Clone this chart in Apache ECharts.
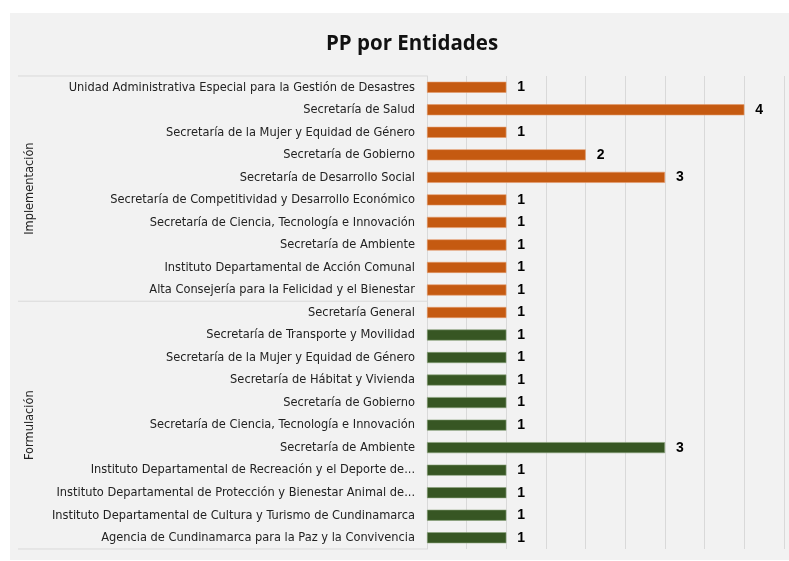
<!DOCTYPE html>
<html><head><meta charset="utf-8">
<script src="https://cdn.jsdelivr.net/npm/echarts@6/dist/echarts.min.js"></script>
<style>
html,body{margin:0;padding:0;background:#fff;}
#bg{position:absolute;left:10px;top:13px;width:779px;height:547px;background:#f2f2f2;}
#c{position:absolute;left:0;top:0;width:789px;height:561px;}
</style></head>
<body><div id="bg"></div><div id="c"></div>
<script>
const categories = [
  'Unidad Administrativa Especial para la Gestión de Desastres',
  'Secretaría de Salud',
  'Secretaría de la Mujer y Equidad de Género',
  'Secretaría de Gobierno',
  'Secretaría de Desarrollo Social',
  'Secretaría de Competitividad y Desarrollo Económico',
  'Secretaría de Ciencia, Tecnología e Innovación',
  'Secretaría de Ambiente',
  'Instituto Departamental de Acción Comunal',
  'Alta Consejería para la Felicidad y el Bienestar',
  'Secretaría General',
  'Secretaría de Transporte y Movilidad',
  'Secretaría de la Mujer y Equidad de Género',
  'Secretaría de Hábitat y Vivienda',
  'Secretaría de Gobierno',
  'Secretaría de Ciencia, Tecnología e Innovación',
  'Secretaría de Ambiente',
  'Instituto Departamental de Recreación y el Deporte de...',
  'Instituto Departamental de Protección y Bienestar Animal de...',
  'Instituto Departamental de Cultura y Turismo de Cundinamarca',
  'Agencia de Cundinamarca para la Paz y la Convivencia'
];
const values = [1,4,1,2,3,1,1,1,1,1,1,1,1,1,1,1,3,1,1,1,1];
// bar colour group for each bar (Secretaría General is drawn orange in the source)
const barGroup = ['imp','imp','imp','imp','imp','imp','imp','imp','imp','imp','imp',
                  'for','for','for','for','for','for','for','for','for','for'];
// outer category groups: label and number of rows
const groupLabels = ['Implementación','Formulación'];
const groupSizes = [10, 11];

const colors = {imp:'#c55a11', for:'#375623'};
const borders = {imp:'#e59a6a', for:'#8aa27a'};
const narrow = '"Liberation Sans Narrow","Arial Narrow","DejaVu Sans Condensed",sans-serif';

const chart = echarts.init(document.getElementById('c'));
const keys = categories.map((c,i)=>i+'|'+c);
chart.setOption({
  backgroundColor:'transparent',
  animation:false,
  title:{text:'PP por Entidades', left:321, top:29,
    textStyle:{fontFamily:'"Open Sans","Noto Sans",sans-serif', fontWeight:'bold', fontSize:20.5, color:'#111'}},
  grid:{left:427, right:5, top:76, bottom:12, containLabel:false},
  xAxis:{type:'value', min:0, max:4.5, interval:0.5,
    axisLabel:{show:false}, axisLine:{show:false}, axisTick:{show:false},
    splitLine:{show:true, lineStyle:{color:'#d9d9d9', width:1}}},
  yAxis:{type:'category', inverse:true, data:keys,
    axisLine:{show:true, lineStyle:{color:'#d9d9d9'}}, axisTick:{show:false},
    axisLabel:{margin:12, fontFamily:narrow, fontSize:12.7, color:'#222',
      formatter:(v)=>v.substring(v.indexOf('|')+1)}},
  series:[{type:'bar', barWidth:11,
    data: values.map((v,i)=>({value:v, itemStyle:{color:colors[barGroup[i]], borderColor:borders[barGroup[i]], borderWidth:0.6}})),
    label:{show:true, position:'right', distance:11, fontFamily:'"Liberation Sans",Arial,sans-serif', fontWeight:'bold', fontSize:14, color:'#000'}
  }]
});

// group separators and rotated group labels, positioned from the category axis
const half = (chart.convertToPixel({yAxisIndex:0}, keys[1]) - chart.convertToPixel({yAxisIndex:0}, keys[0]))/2;
const axisX = chart.convertToPixel({xAxisIndex:0}, 0);
const gfx = [];
let start = 0;
const topY = chart.convertToPixel({yAxisIndex:0}, keys[0]) - half;
gfx.push({type:'line', shape:{x1:18, y1:topY, x2:axisX, y2:topY}, style:{stroke:'#d9d9d9', lineWidth:1}});
groupSizes.forEach((n,gi)=>{
  const y0 = chart.convertToPixel({yAxisIndex:0}, keys[start]) - half;
  const y1 = chart.convertToPixel({yAxisIndex:0}, keys[start+n-1]) + half;
  gfx.push({type:'line', shape:{x1:18, y1:y1, x2:axisX, y2:y1}, style:{stroke:'#d9d9d9', lineWidth:1}});
  gfx.push({type:'text', x:30, y:(y0+y1)/2, rotation:Math.PI/2,
    style:{text:groupLabels[gi], fill:'#222', font:'12.7px '+narrow, align:'center', verticalAlign:'middle'}});
  start += n;
});
chart.setOption({graphic:gfx});
</script></body></html>
